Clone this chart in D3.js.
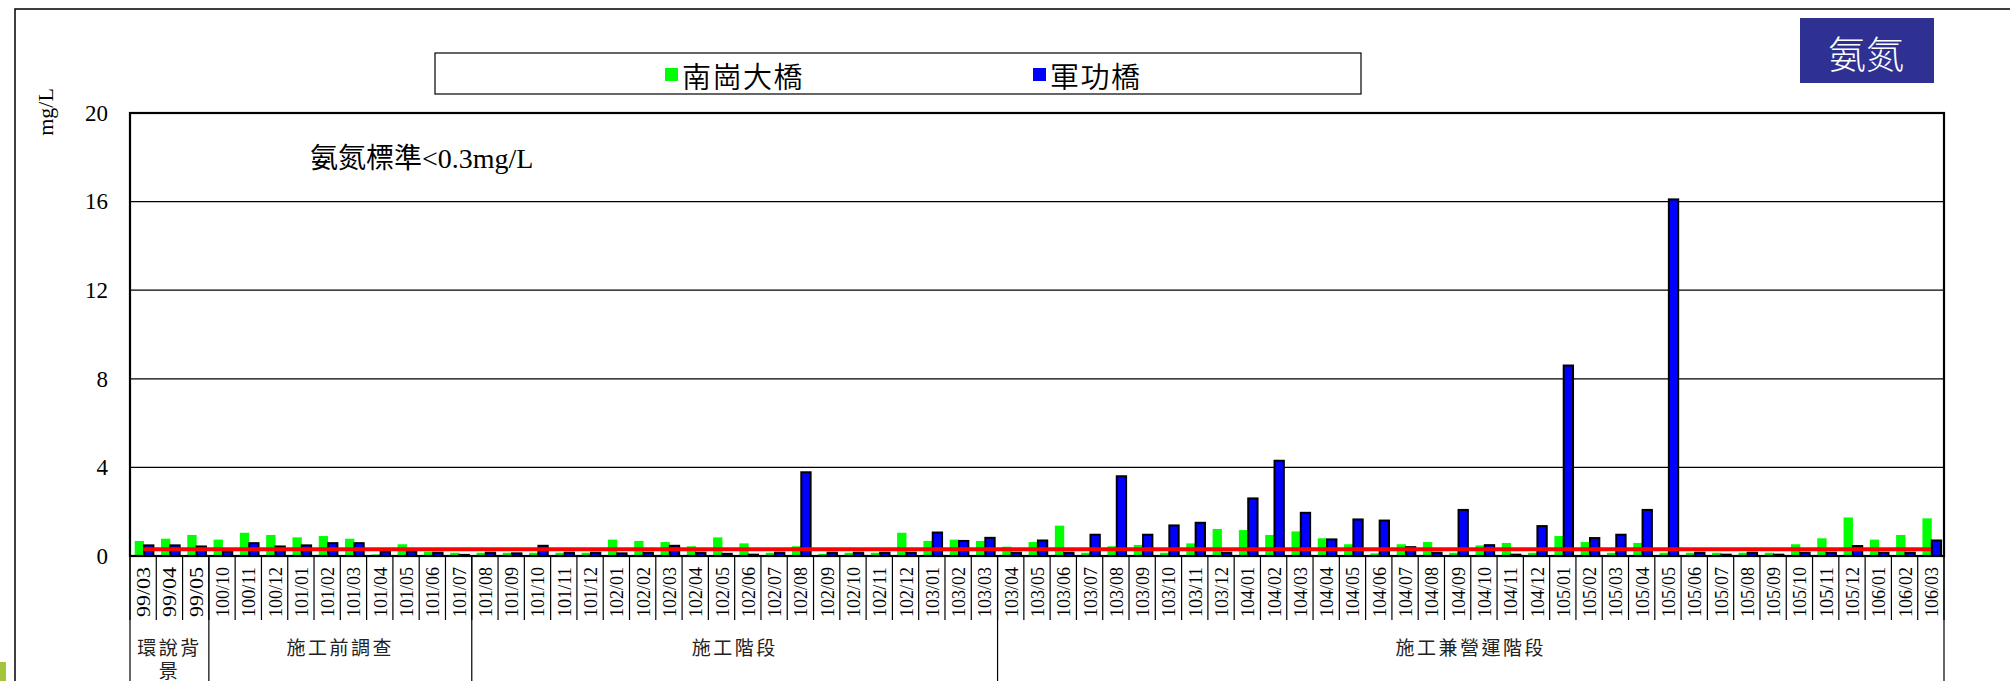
<!DOCTYPE html>
<html><head><meta charset="utf-8">
<script src="https://cdn.jsdelivr.net/npm/d3@7/dist/d3.min.js"></script>
<style>html,body{margin:0;padding:0;background:#fff;overflow:hidden}</style>
</head><body>
<svg id="c" width="2010" height="681"></svg>
<script>
const categories = ["99/03","99/04","99/05",
 "100/10","100/11","100/12","101/01","101/02","101/03","101/04","101/05","101/06","101/07",
 "101/08","101/09","101/10","101/11","101/12","102/01","102/02","102/03","102/04","102/05","102/06","102/07","102/08","102/09","102/10","102/11","102/12","103/01","103/02","103/03",
 "103/04","103/05","103/06","103/07","103/08","103/09","103/10","103/11","103/12","104/01","104/02","104/03","104/04","104/05","104/06","104/07","104/08","104/09","104/10","104/11","104/12","105/01","105/02","105/03","105/04","105/05","105/06","105/07","105/08","105/09","105/10","105/11","105/12","106/01","106/02","106/03"];
const groupNames = ["環說背景","施工前調查","施工階段","施工兼營運階段"];
const groupSizes = [3,10,20,36];
const seriesNames = ["南崗大橋","軍功橋"];
const nangang = [0.68,0.78,0.95,
 0.74,1.05,0.95,0.84,0.9,0.78,0.07,0.53,0.2,0.15,
 0.15,0.15,0.15,0.15,0.15,0.74,0.68,0.63,0.44,0.84,0.57,0.15,0.44,0.1,0.15,0.15,1.05,0.68,0.74,0.68,
 0.42,0.63,1.37,0.15,0.44,0.5,0.15,0.57,1.22,1.17,0.95,1.11,0.8,0.53,0.12,0.53,0.63,0.15,0.48,0.59,0.15,0.9,0.63,0.15,0.59,0.15,0.15,0.15,0.15,0.15,0.53,0.8,1.74,0.74,0.95,1.7];
const jungong = [0.48,0.48,0.43,
 0.2,0.58,0.43,0.48,0.58,0.58,0.2,0.2,0.15,0.05,
 0.15,0.12,0.46,0.15,0.15,0.12,0.15,0.46,0.15,0.1,0.06,0.15,3.78,0.15,0.15,0.15,0.15,1.06,0.68,0.82,
 0.15,0.7,0.15,0.96,3.6,0.96,1.38,1.5,0.15,2.6,4.3,1.95,0.75,1.65,1.6,0.4,0.15,2.08,0.49,0.06,1.35,8.6,0.81,0.96,2.08,16.1,0.15,0.06,0.15,0.06,0.15,0.15,0.45,0.15,0.15,0.7];
const standard = 0.3;
const yTicks = [0,4,8,12,16,20];
const titleText = "氨氮";
const noteText = "氨氮標準<0.3mg/L";
const unitText = "mg/L";

const serif = "'Liberation Serif','Times New Roman',serif";
const cjk = "'Noto Sans CJK TC','Noto Sans CJK SC',sans-serif";
const svg = d3.select("#c");
const L = 130, R = 1944, T = 113, B = 556;

// outer frame
svg.append("rect").attr("x",15).attr("y",9).attr("width",2100).attr("height",800)
  .attr("fill","none").attr("stroke","#000").attr("stroke-width",1.5);
svg.append("rect").attr("x",0).attr("y",662).attr("width",6).attr("height",19).attr("fill","#a3c43b");

const x = d3.scaleBand().domain(categories).range([L,R]).paddingInner(0.29).paddingOuter(0.145);
const x1 = d3.scaleBand().domain(seriesNames).range([0,x.bandwidth()]);
const y = d3.scaleLinear().domain([0,20]).range([B,T]);

// gridlines
svg.append("g").selectAll("line").data(yTicks.filter(d=>d>0&&d<20)).join("line")
  .attr("x1",L).attr("x2",R).attr("y1",d=>y(d)).attr("y2",d=>y(d))
  .attr("stroke","#000").attr("stroke-width",1.3);

// bars
const shift = 0.9;
svg.append("g").selectAll("rect").data(nangang).join("rect")
  .attr("x",(d,i)=>x(categories[i])+x1(seriesNames[0])+shift)
  .attr("y",d=>y(d)).attr("width",x1.bandwidth()).attr("height",d=>B-y(d))
  .attr("fill","#00ff00");
svg.append("g").selectAll("rect").data(jungong).join("rect")
  .attr("x",(d,i)=>x(categories[i])+x1(seriesNames[1])+shift)
  .attr("y",d=>y(d)).attr("width",x1.bandwidth()).attr("height",d=>B-y(d))
  .attr("fill","#0000ff").attr("stroke","#000").attr("stroke-width",2);

// standard line
svg.append("line")
  .attr("x1",x(categories[0])+x.bandwidth()/2).attr("x2",x(categories[categories.length-1])+x.bandwidth()/2)
  .attr("y1",y(standard)).attr("y2",y(standard))
  .attr("stroke","#ff0000").attr("stroke-width",4);

// plot frame
svg.append("rect").attr("x",L).attr("y",T).attr("width",R-L).attr("height",B-T)
  .attr("fill","none").attr("stroke","#000").attr("stroke-width",2.2);

// y axis labels
const yAxis = d3.axisLeft(y).tickValues(yTicks).tickSize(0).tickPadding(22);
const ya = svg.append("g").attr("transform",`translate(${L},0)`).call(yAxis);
ya.select(".domain").remove();
ya.selectAll("text").attr("font-family",serif).attr("font-size",23).attr("fill","#000");

svg.append("text").attr("transform","translate(45,112) rotate(-90)")
  .attr("text-anchor","middle").attr("dominant-baseline","central")
  .attr("font-family",serif).attr("font-size",22).text(unitText);

// category separators & labels
const step = x.step();
svg.append("g").selectAll("line").data(d3.range(categories.length+1)).join("line")
  .attr("x1",i=>L+i*step).attr("x2",i=>L+i*step).attr("y1",B).attr("y2",620)
  .attr("stroke","#000").attr("stroke-width",1.2);
svg.append("g").selectAll("text").data(categories).join("text")
  .attr("transform",d=>`translate(${x(d)+x.bandwidth()/2+0.5},617) rotate(-90)`)
  .attr("dominant-baseline","central")
  .attr("textLength",50).attr("lengthAdjust","spacingAndGlyphs")
  .attr("font-family",serif).attr("font-size",19).text(d=>d);

// group separators & labels
const bounds = [0]; groupSizes.forEach(s=>bounds.push(bounds[bounds.length-1]+s));
svg.append("g").selectAll("line").data(bounds).join("line")
  .attr("x1",i=>L+i*step).attr("x2",i=>L+i*step).attr("y1",B).attr("y2",690)
  .attr("stroke","#000").attr("stroke-width",1.2);
groupNames.forEach((g,k)=>{
  const cx = L+(bounds[k]+bounds[k+1])/2*step;
  const width = groupSizes[k]*step;
  const t = svg.append("text").attr("x",cx).attr("y",646).attr("text-anchor","middle")
    .attr("dominant-baseline","central").attr("font-family",cjk).attr("font-size",19)
    .attr("letter-spacing",2.5).attr("fill","#222");
  if (width < 90) {
    t.append("tspan").attr("x",cx).text(g.slice(0,3));
    t.append("tspan").attr("x",cx).attr("dy",23).text(g.slice(3));
  } else t.text(g);
});

// note
svg.append("text").attr("x",310).attr("y",158).attr("dominant-baseline","central")
  .attr("font-family",serif+","+cjk).attr("font-size",28).text(noteText);

// legend
svg.append("rect").attr("x",435).attr("y",53).attr("width",926).attr("height",41)
  .attr("fill","#fff").attr("stroke","#000").attr("stroke-width",1.2);
const legX = [665,1033], legColors = ["#00ff00","#0000ff"];
seriesNames.forEach((s,i)=>{
  svg.append("rect").attr("x",legX[i]).attr("y",68).attr("width",13).attr("height",13).attr("fill",legColors[i]);
  svg.append("text").attr("x",legX[i]+17).attr("y",75).attr("dominant-baseline","central")
    .attr("font-family",cjk).attr("font-size",29).attr("letter-spacing",1.5).attr("font-weight",350).text(s);
});

// title box
svg.append("rect").attr("x",1800).attr("y",18).attr("width",134).attr("height",65).attr("fill","#2e3192");
svg.append("text").attr("x",1866).attr("y",51).attr("text-anchor","middle").attr("dominant-baseline","central")
  .attr("font-family",cjk).attr("font-size",38).attr("font-weight",300).attr("fill","#fff").text(titleText);
</script>
</body></html>
